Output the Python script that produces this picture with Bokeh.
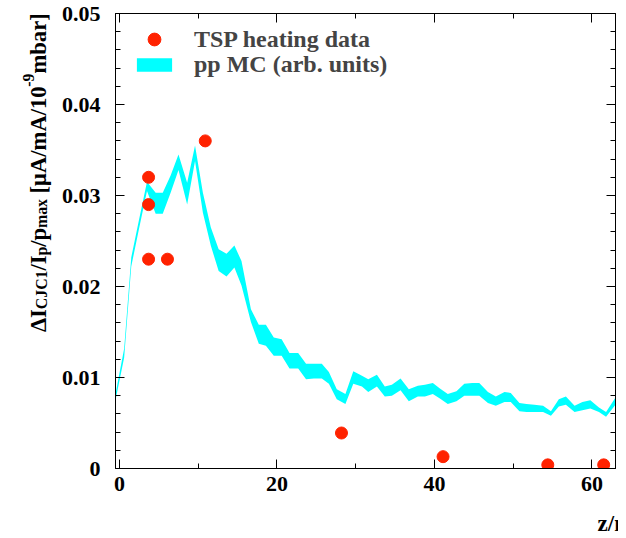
import math, glob, os, struct
from bokeh.plotting import figure
from bokeh.layouts import row
from bokeh.models import (Range1d, FixedTicker, LinearAxis, Legend, LegendItem, Label, Title)
from bokeh.embed import file_html
from bokeh.resources import INLINE

# ---- data ----
tsp_z = [3.7, 3.7, 3.7, 6.1, 10.9, 28.2, 41.1, 54.4, 61.5]
tsp_val = [0.032, 0.029, 0.023, 0.023, 0.036, 0.0039, 0.0013, 0.0004, 0.0004]

mc_z = [-0.5, 0.6, 1.5, 2.5, 3.5, 4.6, 5.5, 6.5, 7.5, 8.6, 9.6, 10.6, 11.6, 12.6,
        13.6, 14.6, 15.5, 16.7, 17.7, 18.6, 19.6, 20.6, 21.6, 22.7, 23.7, 24.7,
        25.7, 26.6, 27.6, 28.7, 29.7, 30.8, 31.6, 32.7, 33.7, 34.6, 35.7, 36.75,
        37.9, 38.8, 39.8, 40.7, 41.7, 42.8, 43.8, 44.8, 45.7, 46.8, 47.8, 48.9,
        49.7, 50.8, 51.7, 52.7, 53.8, 54.8, 55.8, 56.7, 57.8, 58.8, 59.8, 60.9,
        61.8, 63.0]
mc_low = [0.0075, 0.0122, 0.0222, 0.0264, 0.0305, 0.0280, 0.0280, 0.0303, 0.0328,
          0.0290, 0.0338, 0.0281, 0.0245, 0.0217, 0.0211, 0.0221, 0.0201, 0.0161,
          0.0137, 0.0135, 0.0124, 0.0124, 0.0110, 0.0110, 0.0098, 0.0099, 0.0099,
          0.0093, 0.0076, 0.0071, 0.0093, 0.0090, 0.0084, 0.0090, 0.0079, 0.0080,
          0.0086, 0.0074, 0.0079, 0.0079, 0.0082, 0.0077, 0.0071, 0.0074, 0.0080,
          0.0080, 0.0080, 0.0072, 0.0069, 0.0073, 0.0073, 0.0063, 0.0062, 0.0062,
          0.0062, 0.0058, 0.0068, 0.0070, 0.0062, 0.0064, 0.0066, 0.0062, 0.0057,
          0.0070]
mc_high = [0.0082, 0.0132, 0.0232, 0.0274, 0.0315, 0.0303, 0.0303, 0.0322, 0.0345,
           0.0314, 0.0355, 0.0303, 0.0265, 0.0241, 0.0236, 0.0245, 0.0228, 0.0175,
           0.0158, 0.0158, 0.0144, 0.0142, 0.0127, 0.0127, 0.0115, 0.0115, 0.0115,
           0.0106, 0.0087, 0.0082, 0.0107, 0.0102, 0.0098, 0.0103, 0.0090, 0.0092,
           0.0099, 0.0087, 0.0091, 0.0092, 0.0094, 0.0088, 0.0082, 0.0085, 0.0093,
           0.0094, 0.0094, 0.0084, 0.0079, 0.0084, 0.0083, 0.0072, 0.0071, 0.0070,
           0.0069, 0.0063, 0.0076, 0.0079, 0.0069, 0.0073, 0.0075, 0.0067, 0.0062,
           0.0078]

x_major = [0, 20, 40, 60]
x_minor = [10, 30, 50]
y_major = [0, 0.01, 0.02, 0.03, 0.04, 0.05]
y_labels = ["0", "0.01", "0.02", "0.03", "0.04", "0.05"]
y_minor = [0.002, 0.004, 0.006, 0.008, 0.012, 0.014, 0.016, 0.018, 0.022, 0.024,
           0.026, 0.028, 0.032, 0.034, 0.036, 0.038, 0.042, 0.044, 0.046, 0.048]
x_title = "z/m"

# y title pieces: (text, role) ; role: main / sub / sup
ytitle_pieces = [("\u0394I", "main"), ("CJC1", "sub"), ("/I", "main"), ("p", "sub"),
                 ("/p", "main"), ("max", "sub"), (" ", "main"),
                 ("[\u03bcA/mA/10", "main"), ("-9", "sup"), ("mbar]", "main")]

FONT = "Liberation Serif"
H = 538
LAB_W = 58
B_TOP, B_BOTTOM = 13, 68


# ---------- font advance widths (for chaining the rotated title pieces) ----------
def _load_advances():
    paths = []
    for root in ("/usr/share/fonts", "/usr/local/share/fonts", os.path.expanduser("~/.fonts")):
        paths += glob.glob(os.path.join(root, "**", "LiberationSerif-Bold.ttf"), recursive=True)
    if not paths:
        return None
    try:
        data = open(paths[0], "rb").read()
        ntab = struct.unpack(">H", data[4:6])[0]
        tabs = {}
        for i in range(ntab):
            rec = data[12 + 16 * i: 28 + 16 * i]
            tag = rec[:4].decode("latin1")
            _, off, ln = struct.unpack(">III", rec[4:16])
            tabs[tag] = off
        upem = struct.unpack(">H", data[tabs["head"] + 18: tabs["head"] + 20])[0]
        nhm = struct.unpack(">H", data[tabs["hhea"] + 34: tabs["hhea"] + 36])[0]
        hm = tabs["hmtx"]
        cm = tabs["cmap"]
        nsub = struct.unpack(">H", data[cm + 2: cm + 4])[0]
        sub_off = None
        for i in range(nsub):
            pid, eid, off = struct.unpack(">HHI", data[cm + 4 + 8 * i: cm + 12 + 8 * i])
            fmt = struct.unpack(">H", data[cm + off: cm + off + 2])[0]
            if fmt == 4 and (pid, eid) in ((3, 1), (0, 3), (0, 1)):
                sub_off = cm + off
                break
        if sub_off is None:
            return None
        segx2 = struct.unpack(">H", data[sub_off + 6: sub_off + 8])[0]
        seg = segx2 // 2
        ends_p = sub_off + 14
        starts_p = ends_p + segx2 + 2
        delta_p = starts_p + segx2
        rng_p = delta_p + segx2

        def u16(pos):
            return struct.unpack(">H", data[pos:pos + 2])[0]

        def gid_of(c):
            for i in range(seg):
                end = u16(ends_p + 2 * i)
                if c <= end:
                    start = u16(starts_p + 2 * i)
                    if c < start:
                        return 0
                    delta = u16(delta_p + 2 * i)
                    ro = u16(rng_p + 2 * i)
                    if ro == 0:
                        return (c + delta) & 0xFFFF
                    g = u16(rng_p + 2 * i + ro + 2 * (c - start))
                    return (g + delta) & 0xFFFF if g else 0
            return 0

        def adv(ch):
            g = gid_of(ord(ch))
            idx = min(g, nhm - 1)
            return u16(hm + 4 * idx) / upem
        return adv
    except Exception:
        return None

_FALLBACK = {"\u0394": 0.72, "I": 0.389, "C": 0.722, "J": 0.5, "1": 0.5, "/": 0.278,
             "p": 0.556, "m": 0.833, "a": 0.5, "x": 0.5, " ": 0.25, "[": 0.333,
             "\u03bc": 0.556, "A": 0.722, "0": 0.5, "-": 0.333, "9": 0.5, "b": 0.556,
             "r": 0.444, "]": 0.333}
_adv = _load_advances()

def em_width(s):
    if _adv is not None:
        return sum(_adv(c) for c in s)
    return sum(_FALLBACK.get(c, 0.5) for c in s)

SUB_RATIO = 0.7
START_PY, END_PY = 333.0, 13.0     # page y where the title starts / ends
main_em = sum(em_width(t) for t, r in ytitle_pieces if r == "main")
small_em = sum(em_width(t) for t, r in ytitle_pieces if r != "main")
FS_MAIN = (START_PY - END_PY) / (main_em + SUB_RATIO * small_em)
FS_SMALL = FS_MAIN * SUB_RATIO
BASE_X = {"main": 38, "sub": 41, "sup": 28}

# ---------------- main plot ----------------
p = figure(width=560, height=H, x_range=Range1d(-0.5, 63.0), y_range=Range1d(0.0, 0.05),
           output_backend="svg", toolbar_location=None,
           min_border_left=56, min_border_right=3, min_border_top=B_TOP,
           min_border_bottom=B_BOTTOM)
p.xgrid.visible = False
p.ygrid.visible = False
p.outline_line_color = "black"
p.background_fill_color = "white"
p.border_fill_color = "white"

band = p.varea(x=mc_z, y1=mc_low, y2=mc_high, fill_color="#00ffff", fill_alpha=1.0)
pts = p.scatter(x=tsp_z, y=tsp_val, size=12, fill_color="#ff2200", line_color="#ff2200")

xt = FixedTicker(ticks=x_major, minor_ticks=x_minor)
yt = FixedTicker(ticks=y_major, minor_ticks=y_minor)

def style_axis(ax, ticker, ticks, show_labels):
    ax.ticker = ticker
    ax.major_tick_in = 9
    ax.major_tick_out = 0
    ax.minor_tick_in = 5
    ax.minor_tick_out = 0
    ax.axis_line_color = "black"
    ax.major_tick_line_color = "black"
    ax.minor_tick_line_color = "black"
    if show_labels:
        ax.major_label_text_font = FONT
        ax.major_label_text_font_style = "bold"
        ax.major_label_text_font_size = "22px"
        ax.major_label_text_color = "black"
    else:
        ax.major_label_overrides = {v: "" for v in ticks}
        ax.major_label_standoff = 0

bottom_ax = p.below[0]
left_ax = p.left[0]
style_axis(bottom_ax, xt, x_major, True)
style_axis(left_ax, yt, y_major, True)
bottom_ax.major_label_standoff = 8
left_ax.major_label_standoff = 15
left_ax.major_label_overrides = {v: s for v, s in zip(y_major, y_labels)}

top_ax = LinearAxis()
style_axis(top_ax, xt, x_major, False)
p.add_layout(top_ax, "above")
right_ax = LinearAxis()
style_axis(right_ax, yt, y_major, False)
p.add_layout(right_ax, "right")

# x axis title: right aligned axis label on the bottom axis when supported, else a Title
used_axis_label = False
if "axis_label_align" in bottom_ax.properties():
    for val in ("end", "right"):
        try:
            bottom_ax.axis_label_align = val
            used_axis_label = True
            break
        except Exception:
            pass
if used_axis_label:
    bottom_ax.axis_label = x_title
    bottom_ax.axis_label_standoff = 17
    bottom_ax.axis_label_text_align = "right"
    bottom_ax.axis_label_text_font = FONT
    bottom_ax.axis_label_text_font_style = "bold"
    bottom_ax.axis_label_text_font_size = "23px"
    bottom_ax.axis_label_text_color = "black"
else:
    p.add_layout(Title(text=x_title, align="right", offset=5, standoff=0,
                       vertical_align="bottom", text_line_height=1.7, text_font=FONT,
                       text_font_style="bold", text_font_size="23px", text_color="black"),
                 "below")

leg1 = Legend(items=[LegendItem(label="TSP heating data", renderers=[pts])],
              location=(17, 413), glyph_width=44, glyph_height=32, label_standoff=18,
              padding=0, margin=0, spacing=0, border_line_color=None,
              background_fill_alpha=0, label_text_font=FONT, label_text_font_style="bold",
              label_text_font_size="24px")
leg2 = Legend(items=[LegendItem(label="pp MC (arb. units)", renderers=[band])],
              location=(17, 390), glyph_width=44, glyph_height=17, label_standoff=18,
              padding=0, margin=0, spacing=0, border_line_color=None,
              background_fill_alpha=0, label_text_font=FONT, label_text_font_style="bold",
              label_text_font_size="24px")
p.add_layout(leg1, "center")
p.add_layout(leg2, "center")

# ---------------- y axis title strip ----------------
lab = figure(width=LAB_W, height=H, x_range=Range1d(0, LAB_W),
             y_range=Range1d(B_BOTTOM, H - B_TOP),
             output_backend="svg", toolbar_location=None,
             min_border_left=0, min_border_right=0, min_border_top=B_TOP,
             min_border_bottom=B_BOTTOM)
lab.axis.visible = False
lab.xgrid.visible = False
lab.ygrid.visible = False
lab.outline_line_color = None
lab.background_fill_color = "white"
lab.border_fill_color = "white"

pos = H - START_PY
for txt, role in ytitle_pieces:
    fs = FS_MAIN if role == "main" else FS_SMALL
    if txt.strip():
        lab.add_layout(Label(x=BASE_X[role], y=pos, text=txt,
                             angle=math.pi / 2, text_align="left",
                             text_baseline="alphabetic", text_font=FONT,
                             text_font_style="bold", text_font_size=f"{fs:.2f}px",
                             text_color="black"))
    pos += em_width(txt) * fs

layout = row(lab, p)
open("out.html", "w").write(file_html(layout, INLINE))
